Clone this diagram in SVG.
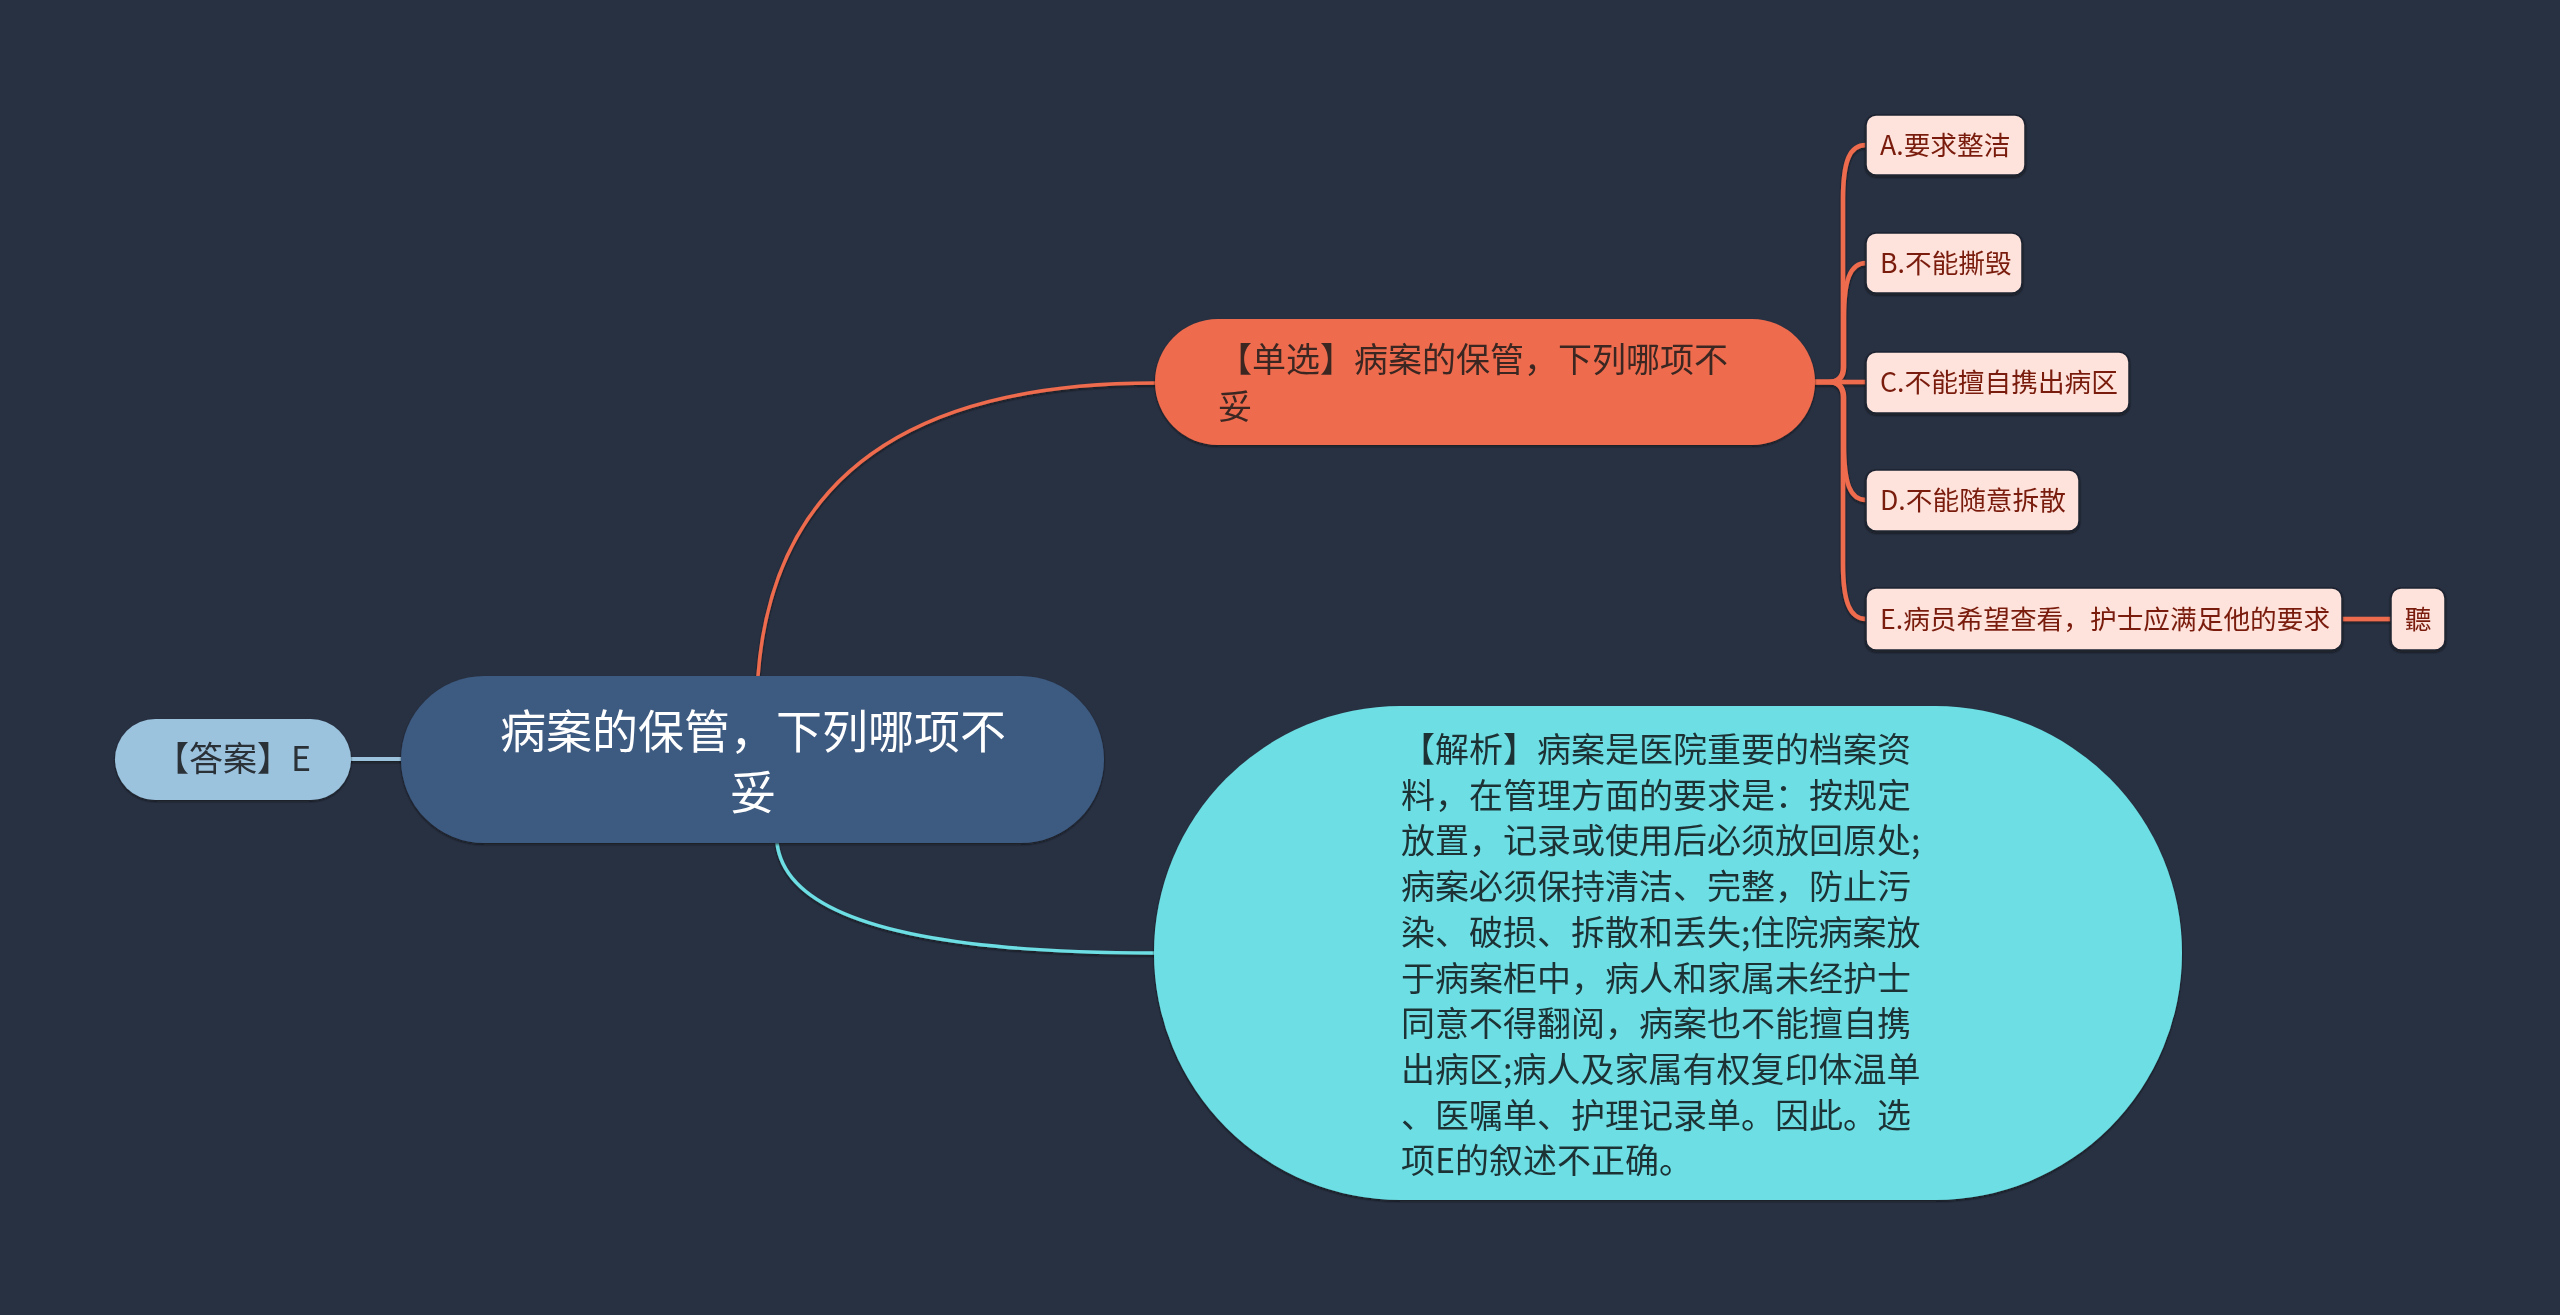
<svg xmlns="http://www.w3.org/2000/svg" width="2560" height="1315" viewBox="0 0 2560 1315">
  <defs>
    <filter id="sh" x="-10%" y="-10%" width="120%" height="130%">
      <feDropShadow dx="0" dy="1.5" stdDeviation="1.2" flood-color="#0d1118" flood-opacity="0.7"/>
    </filter>
    <style>
      .t { font-family: "Noto Sans CJK SC", "Noto Sans", sans-serif; }
      .conn { fill: none; stroke-linecap: round; }
      .orange { stroke: #ee6c4e; stroke-width: 3.5; }
      .orange2 { stroke: #ee6c4e; stroke-width: 4.5; }
      .cyan { stroke: #6ddfe4; stroke-width: 3.5; }
      .blue { stroke: #9cc3de; stroke-width: 4; }
      .leaf { fill: #fde3dc; stroke: #1e2430; stroke-width: 1.5; }
      .leaftxt { font-size: 26.7px; fill: #7a1c0d; }
    </style>
  </defs>
  <rect x="0" y="0" width="2560" height="1315" fill="#283142"/>

  <g id="connectors" filter="url(#sh)">
    <path class="conn orange" d="M758,676 Q780,383 1155,383"/>
    <path class="conn cyan" d="M777,843 Q790,953 1155,953"/>
    <path class="conn blue" d="M351,759 L401,759"/>
    <path class="conn orange2" d="M1815,382 L1828,382 Q1843,382 1843,367 L1843,200 C1843,160 1850,145 1866,145"/>
    <path class="conn orange2" d="M1815,382 L1828,382 Q1844,382 1844,367 L1844,318 C1844,280 1850,263 1866,263"/>
    <path class="conn orange2" d="M1815,382 L1866,382"/>
    <path class="conn orange2" d="M1815,382 L1828,382 Q1844,382 1844,397 L1844,445 C1844,483 1850,500 1866,500"/>
    <path class="conn orange2" d="M1815,382 L1828,382 Q1843,382 1843,397 L1843,564 C1843,602 1850,619 1866,619"/>
    <path class="conn orange2" d="M2342,619 L2391,619"/>
  </g>

  <g id="root" filter="url(#sh)">
    <rect x="401" y="676" width="703" height="167" rx="83.5" fill="#3d5a80"/>
    <text class="t" x="753" y="748" font-size="46" fill="#ffffff" text-anchor="middle">病案的保管，下列哪项不</text>
    <text class="t" x="753" y="809" font-size="46" fill="#ffffff" text-anchor="middle">妥</text>
  </g>

  <g id="answer" filter="url(#sh)">
    <rect x="115" y="719" width="236" height="81" rx="40.5" fill="#9cc3de"/>
    <text class="t" x="233" y="771" font-size="34" fill="#2a3038" text-anchor="middle">【答案】E</text>
  </g>

  <g id="question" filter="url(#sh)">
    <rect x="1155" y="319" width="660" height="126" rx="63" fill="#ee6c4e"/>
    <text class="t" x="1218" y="372" font-size="34" fill="#3b2824">【单选】病案的保管，下列哪项不</text>
    <text class="t" x="1218" y="419" font-size="34" fill="#3b2824">妥</text>
  </g>

  <g id="optA" filter="url(#sh)">
    <rect class="leaf" x="1866" y="115" width="159" height="60" rx="10"/>
    <text class="t leaftxt" x="1880" y="155">A.要求整洁</text>
  </g>
  <g id="optB" filter="url(#sh)">
    <rect class="leaf" x="1866" y="233" width="156" height="60" rx="10"/>
    <text class="t leaftxt" x="1880" y="273">B.不能撕毁</text>
  </g>
  <g id="optC" filter="url(#sh)">
    <rect class="leaf" x="1866" y="352" width="263" height="61" rx="10"/>
    <text class="t leaftxt" x="1880" y="392">C.不能擅自携出病区</text>
  </g>
  <g id="optD" filter="url(#sh)">
    <rect class="leaf" x="1866" y="470" width="213" height="61" rx="10"/>
    <text class="t leaftxt" x="1880" y="510">D.不能随意拆散</text>
  </g>
  <g id="optE" filter="url(#sh)">
    <rect class="leaf" x="1866" y="588" width="476" height="62" rx="10"/>
    <text class="t leaftxt" x="1880" y="629">E.病员希望查看，护士应满足他的要求</text>
  </g>
  <g id="optE-sub" filter="url(#sh)">
    <rect class="leaf" x="2391" y="588" width="54" height="62" rx="10"/>
    <text class="t leaftxt" x="2418" y="629" text-anchor="middle">聽</text>
  </g>

  <g id="analysis" filter="url(#sh)">
    <rect x="1154" y="706" width="1028" height="494" rx="247" fill="#6ddfe4"/>
    <g class="t" font-size="34" fill="#1d3034">
      <text x="1401" y="762">【解析】病案是医院重要的档案资</text>
      <text x="1401" y="807.7">料，在管理方面的要求是：按规定</text>
      <text x="1401" y="853.4">放置，记录或使用后必须放回原处;</text>
      <text x="1401" y="899.1">病案必须保持清洁、完整，防止污</text>
      <text x="1401" y="944.8">染、破损、拆散和丢失;住院病案放</text>
      <text x="1401" y="990.5">于病案柜中，病人和家属未经护士</text>
      <text x="1401" y="1036.2">同意不得翻阅，病案也不能擅自携</text>
      <text x="1401" y="1081.9">出病区;病人及家属有权复印体温单</text>
      <text x="1401" y="1127.6">、医嘱单、护理记录单。因此。选</text>
      <text x="1401" y="1173.3">项E的叙述不正确。</text>
    </g>
  </g>
</svg>
